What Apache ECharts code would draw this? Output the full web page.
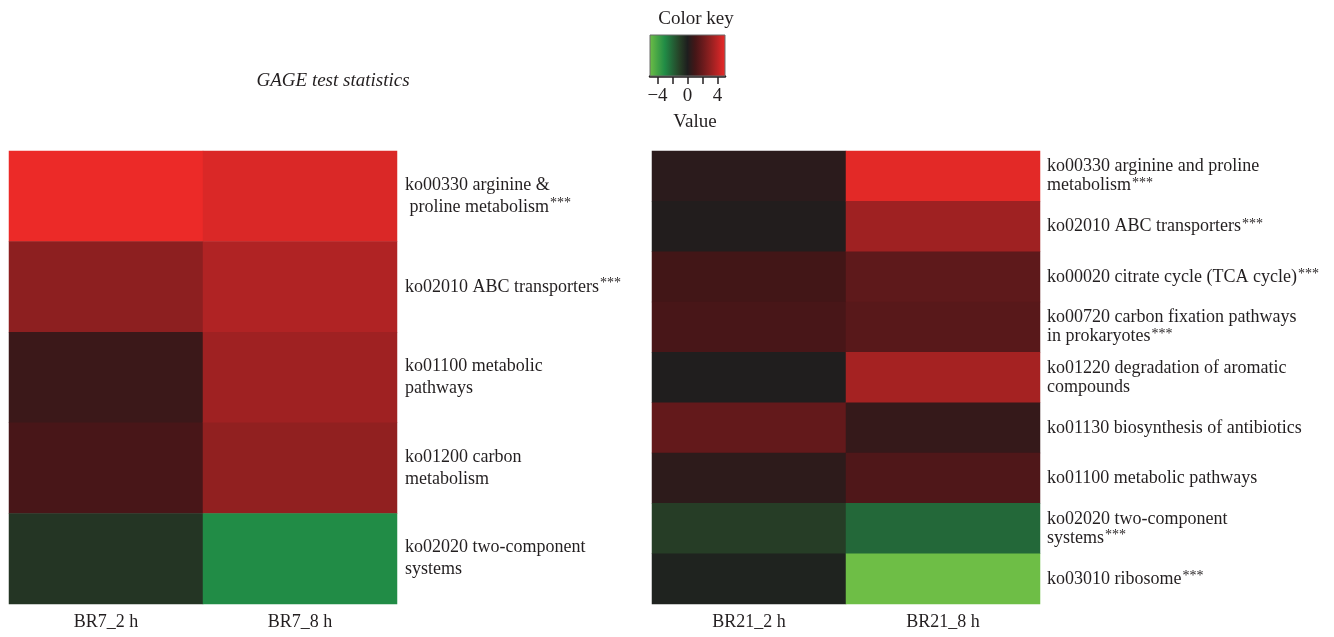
<!DOCTYPE html>
<html>
<head>
<meta charset="utf-8">
<script src="https://cdn.jsdelivr.net/npm/echarts@6/dist/echarts.min.js"></script>
<style>
  html, body { margin: 0; padding: 0; background: #ffffff; }
  #chart { width: 1334px; height: 637px; }
</style>
</head>
<body>
<div id="chart"></div>
<script>
// GAGE test statistics, strain BR7
const br7Samples = ['BR7_2 h', 'BR7_8 h'];
const br7Pathways = [
  'ko00330 arginine &\n proline metabolism',
  'ko02010 ABC transporters',
  'ko01100 metabolic\npathways',
  'ko01200 carbon\nmetabolism',
  'ko02020 two-component\nsystems'
];
const br7Significant = [true, true, false, false, false];
const br7_2h = [5.0, 2.9, 0.75, 1.1, -0.7];
const br7_8h = [4.6, 3.7, 3.3, 3.0, -3.0];

// GAGE test statistics, strain BR21
const br21Samples = ['BR21_2 h', 'BR21_8 h'];
const br21Pathways = [
  'ko00330 arginine and proline\nmetabolism',
  'ko02010 ABC transporters',
  'ko00020 citrate cycle (TCA cycle)',
  'ko00720 carbon fixation pathways\nin prokaryotes',
  'ko01220 degradation of aromatic\ncompounds',
  'ko01130 biosynthesis of antibiotics',
  'ko01100 metabolic pathways',
  'ko02020 two-component\nsystems',
  'ko03010 ribosome'
];
const br21Significant = [true, true, true, true, false, false, false, true, true];
const br21_2h = [0.35, 0.1, 0.95, 1.1, 0.05, 1.85, 0.4, -0.95, -0.15];
const br21_8h = [4.8, 3.3, 1.7, 1.55, 3.45, 0.6, 1.3, -2.1, -5.0];

// Colour key: value range, tick positions and labelled ticks
const keyMin = -5;
const keyMax = 5;
const keyTicks = [-4, -2, 0, 2, 4];
const keyLabels = [-4, 0, 4];
// green - black - red ramp, one stop per unit from -5 to 5
const keyColors = [
  '#6ebe46', '#46a546', '#218c46', '#236437', '#263f26',
  '#1e1e1e',
  '#441617', '#691a1c', '#912020', '#be2425', '#ec2a28'
];

const FONT = '"Liberation Serif", "DejaVu Serif", serif';
const TEXT = '#231f20';

function cells(colA, colB) {
  const out = [];
  colA.forEach((v, i) => out.push([0, i, v]));
  colB.forEach((v, i) => out.push([1, i, v]));
  return out;
}

function pathwayLabel(names, flags) {
  return function (value) {
    const i = names.indexOf(value);
    return '{t|' + value.split('\n').join('}\n{t|') + '}' + (flags[i] ? '{s|***}' : '');
  };
}

function richStyle(lh) {
  return {
    t: { fontFamily: FONT, fontSize: 18, color: TEXT, lineHeight: lh },
    s: { fontFamily: FONT, fontSize: 14, color: TEXT, lineHeight: lh, verticalAlign: 'top', padding: [0, 0, 0, 1] }
  };
}

const chart = echarts.init(document.getElementById('chart'), null, { renderer: 'canvas' });

const option = {
  backgroundColor: '#ffffff',
  animation: false,
  title: [
    {
      text: 'GAGE test statistics',
      left: 328, top: 66, textAlign: 'center',
      textStyle: { fontFamily: FONT, fontSize: 19, fontStyle: 'italic', fontWeight: 'normal', color: TEXT }
    },
    {
      text: 'Color key',
      left: 691, top: 5, textAlign: 'center',
      textStyle: { fontFamily: FONT, fontSize: 19, fontWeight: 'normal', color: TEXT }
    },
    {
      text: 'Value',
      left: 690, top: 108, textAlign: 'center',
      textStyle: { fontFamily: FONT, fontSize: 19, fontWeight: 'normal', color: TEXT }
    }
  ],
  visualMap: {
    type: 'continuous',
    show: false,
    min: keyMin,
    max: keyMax,
    seriesIndex: [0, 1],
    inRange: { color: keyColors }
  },
  grid: [
    { left: 9, top: 151, width: 388, height: 453 },
    { left: 652, top: 151, width: 388, height: 453 },
    { left: 650, top: 35, width: 75, height: 41 }
  ],
  xAxis: [
    {
      type: 'category', gridIndex: 0, data: br7Samples,
      axisLine: { show: false }, axisTick: { show: false },
      axisLabel: { fontFamily: FONT, fontSize: 18, color: TEXT, margin: 9 }
    },
    {
      type: 'category', gridIndex: 1, data: br21Samples,
      axisLine: { show: false }, axisTick: { show: false },
      axisLabel: { fontFamily: FONT, fontSize: 18, color: TEXT, margin: 9 }
    },
    {
      type: 'value', gridIndex: 2, min: keyMin, max: keyMax,
      splitLine: { show: false },
      axisLine: { show: true, lineStyle: { color: '#231f20', width: 2.5 } },
      axisTick: { show: true, customValues: keyTicks, length: 8, lineStyle: { color: '#231f20', width: 1.5 } },
      axisLabel: {
        customValues: keyLabels, fontFamily: FONT, fontSize: 19, color: TEXT, margin: 11,
        formatter: v => String(v).replace('-', '\u2212')
      }
    }
  ],
  yAxis: [
    {
      type: 'category', gridIndex: 0, data: br7Pathways, inverse: true, position: 'right',
      axisLine: { show: false }, axisTick: { show: false },
      axisLabel: {
        align: 'left', margin: 8,
        formatter: pathwayLabel(br7Pathways, br7Significant),
        rich: richStyle(22)
      }
    },
    {
      type: 'category', gridIndex: 1, data: br21Pathways, inverse: true, position: 'right',
      axisLine: { show: false }, axisTick: { show: false },
      axisLabel: {
        align: 'left', margin: 7,
        formatter: pathwayLabel(br21Pathways, br21Significant),
        rich: richStyle(19)
      }
    },
    { type: 'value', gridIndex: 2, min: 0, max: 1, show: false }
  ],
  series: [
    {
      type: 'heatmap', xAxisIndex: 0, yAxisIndex: 0,
      data: cells(br7_2h, br7_8h),
      itemStyle: { borderWidth: 0 },
      emphasis: { disabled: true }
    },
    {
      type: 'heatmap', xAxisIndex: 1, yAxisIndex: 1,
      data: cells(br21_2h, br21_8h),
      itemStyle: { borderWidth: 0 },
      emphasis: { disabled: true }
    },
    {
      // colour key bar spanning the value range
      type: 'custom', xAxisIndex: 2, yAxisIndex: 2,
      data: [[keyMin, keyMax]],
      silent: true,
      renderItem: function (params, api) {
        const p0 = api.coord([api.value(0), 1]);
        const p1 = api.coord([api.value(1), 0]);
        const stops = keyColors.map((c, i) => ({ offset: i / (keyColors.length - 1), color: c }));
        return {
          type: 'rect',
          shape: { x: p0[0], y: p0[1], width: p1[0] - p0[0], height: p1[1] - p0[1] },
          style: { fill: new echarts.graphic.LinearGradient(0, 0, 1, 0, stops), stroke: '#6b6b6b', lineWidth: 1 }
        };
      }
    }
  ]
};

chart.setOption(option);
</script>
</body>
</html>
